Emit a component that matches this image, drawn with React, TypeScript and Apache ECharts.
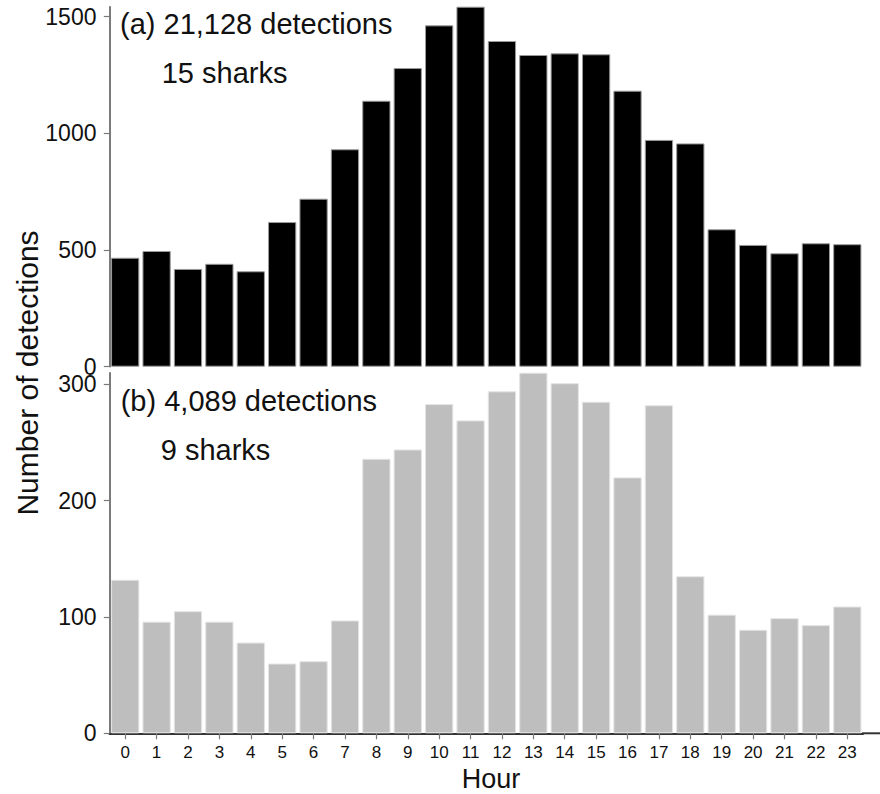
import React, { useEffect, useRef } from "react";
import * as echarts from "echarts";

// Hour of day (0–23)
const hours: string[] = [
  "0", "1", "2", "3", "4", "5", "6", "7", "8", "9", "10", "11",
  "12", "13", "14", "15", "16", "17", "18", "19", "20", "21", "22", "23",
];

// (a) detections per hour, 15 sharks
const detectionsA: number[] = [
  467, 496, 419, 441, 409, 620, 720, 932, 1140, 1280, 1463, 1543,
  1396, 1336, 1343, 1339, 1183, 972, 957, 589, 522, 486, 529, 525,
];

// (b) detections per hour, 9 sharks
const detectionsB: number[] = [
  132, 96, 105, 96, 78, 60, 62, 97, 236, 244, 283, 269,
  294, 310, 301, 285, 220, 282, 135, 102, 89, 99, 93, 109,
];

const ticksA: number[] = [0, 500, 1000, 1500];
const ticksB: number[] = [0, 100, 200, 300];

const panelTextA = ["(a) 21,128 detections", "15 sharks"];
const panelTextB = ["(b) 4,089 detections", "9 sharks"];

const FONT = "'Liberation Sans', Arial, Helvetica, sans-serif";

export default function App() {
  const ref = useRef<HTMLDivElement>(null);

  useEffect(() => {
    if (!ref.current) return;
    const chart = echarts.init(ref.current, undefined, { renderer: "svg" });

    const gridLeft = 109.5;
    const gridRight = 17;
    const topA = 6.7;
    const heightA = 360;
    const topB = 372.7;
    const heightB = 360.6;
    const axisYB = topB + heightB;

    const yAxisBase = (ticks: number[], max: number, gridIndex: number) => ({
      type: "value" as const,
      gridIndex,
      min: 0,
      max,
      splitLine: { show: false },
      axisLine: { show: true, lineStyle: { color: "#5a5a5a", width: 1.6 } },
      axisTick: {
        show: true,
        length: 5.7,
        customValues: ticks,
        lineStyle: { color: "#7a7a7a", width: 1.2 },
      },
      axisLabel: {
        customValues: ticks,
        formatter: (v: number) => (ticks.includes(v) ? String(v) : ""),
        fontFamily: FONT,
        fontSize: 23,
        color: "#111",
        margin: 13,
      },
    });

    chart.setOption({
      animation: false,
      backgroundColor: "#ffffff",
      grid: [
        { left: gridLeft, right: gridRight, top: topA, height: heightA, outerBoundsMode: "none" },
        { left: gridLeft, right: gridRight, top: topB, height: heightB, outerBoundsMode: "none" },
      ],
      xAxis: [
        {
          type: "category",
          gridIndex: 0,
          data: hours,
          axisLine: { show: false },
          axisTick: { show: false },
          axisLabel: { show: false },
        },
        {
          type: "category",
          gridIndex: 1,
          data: hours,
          axisLine: { show: true, lineStyle: { color: "#333", width: 2 } },
          axisTick: {
            show: true,
            alignWithLabel: true,
            length: 6,
            lineStyle: { color: "#7a7a7a", width: 1.2 },
          },
          axisLabel: {
            fontFamily: FONT,
            fontSize: 17,
            color: "#111",
            margin: 11,
            interval: 0,
          },
        },
      ],
      yAxis: [
        yAxisBase(ticksA, Math.max(...detectionsA), 0),
        yAxisBase(ticksB, 310, 1),
      ],
      series: [
        {
          type: "bar",
          xAxisIndex: 0,
          yAxisIndex: 0,
          data: detectionsA,
          barCategoryGap: "10%",
          itemStyle: { color: "#000000", borderColor: "#9a9a9a", borderWidth: 1 },
        },
        {
          type: "bar",
          xAxisIndex: 1,
          yAxisIndex: 1,
          data: detectionsB,
          barCategoryGap: "10%",
          itemStyle: { color: "#bebebe", borderColor: "#e4e4e4", borderWidth: 1 },
        },
      ],
      graphic: [
        // axis line continues past the last bar to the panel edge
        {
          type: "line",
          shape: { x1: 880 - gridRight - 1, y1: axisYB, x2: 880, y2: axisYB },
          style: { stroke: "#333", lineWidth: 2 },
          z: 10,
        },
        {
          type: "text",
          x: 120,
          y: 24,
          style: {
            text: panelTextA[0],
            font: `29px ${FONT}`,
            fill: "#111",
            verticalAlign: "middle",
            align: "left",
          },
        },
        {
          type: "text",
          x: 161.7,
          y: 73.3,
          style: {
            text: panelTextA[1],
            font: `29px ${FONT}`,
            fill: "#111",
            verticalAlign: "middle",
            align: "left",
          },
        },
        {
          type: "text",
          x: 120.7,
          y: 400.6,
          style: {
            text: panelTextB[0],
            font: `29px ${FONT}`,
            fill: "#111",
            verticalAlign: "middle",
            align: "left",
          },
        },
        {
          type: "text",
          x: 160.7,
          y: 450,
          style: {
            text: panelTextB[1],
            font: `29px ${FONT}`,
            fill: "#111",
            verticalAlign: "middle",
            align: "left",
          },
        },
        {
          type: "text",
          x: 27,
          y: 373,
          rotation: Math.PI / 2,
          style: {
            text: "Number of detections",
            font: `30px ${FONT}`,
            fill: "#111",
            verticalAlign: "middle",
            align: "center",
          },
        },
        {
          type: "text",
          x: 491,
          y: 779,
          style: {
            text: "Hour",
            font: `27px ${FONT}`,
            fill: "#111",
            verticalAlign: "middle",
            align: "center",
          },
        },
      ],
    });

    return () => chart.dispose();
  }, []);

  return (
    <div
      ref={ref}
      style={{ position: "fixed", left: 0, top: 0, width: 880, height: 794 }}
    />
  );
}
